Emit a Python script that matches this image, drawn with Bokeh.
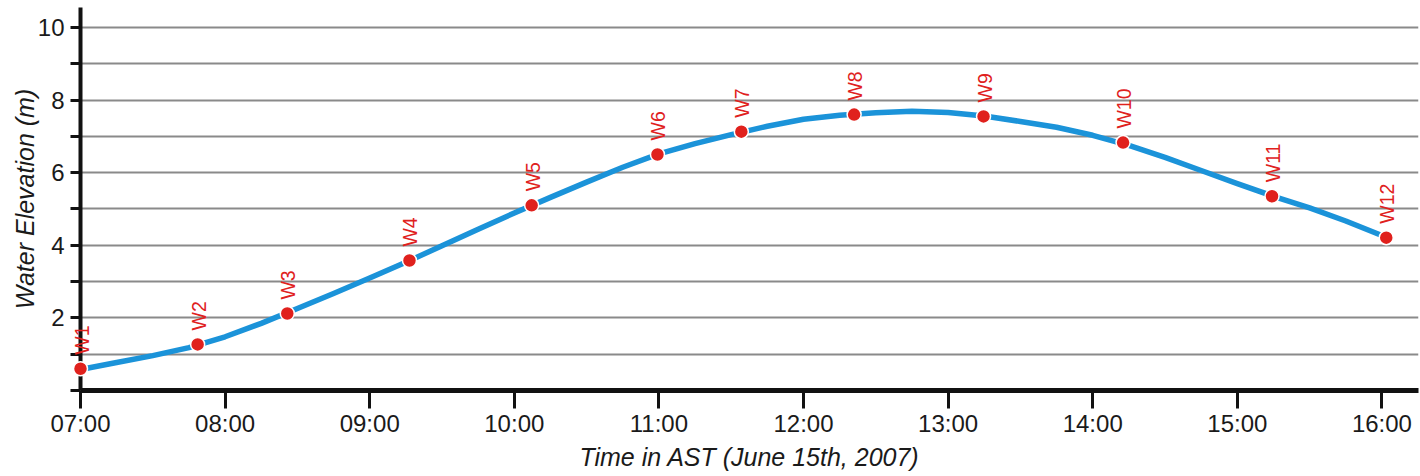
import math
from bokeh.plotting import figure
from bokeh.models import FixedTicker, ColumnDataSource, Range1d
from bokeh.core.properties import value
from bokeh.embed import file_html
from bokeh.resources import INLINE

# ---- data ----
station_names = ["W1", "W2", "W3", "W4", "W5", "W6", "W7", "W8", "W9", "W10", "W11", "W12"]
station_hours = [7.00, 7.81, 8.43, 9.275, 10.12, 10.99, 11.57, 12.35, 13.245, 14.21, 15.24, 16.03]
station_elev = [0.60, 1.27, 2.12, 3.58, 5.10, 6.50, 7.13, 7.60, 7.55, 6.83, 5.35, 4.21]

curve_hours = [7.0, 7.25, 7.5, 7.75, 8.0, 8.25, 8.5, 8.75, 9.0, 9.25, 9.5, 9.75,
               10.0, 10.25, 10.5, 10.75, 11.0, 11.25, 11.5, 11.75, 12.0, 12.25, 12.5, 12.75,
               13.0, 13.25, 13.5, 13.75, 14.0, 14.25, 14.5, 14.75, 15.0, 15.25, 15.5, 15.75,
               16.0, 16.03]
curve_elev = [0.58, 0.77, 0.96, 1.18, 1.48, 1.85, 2.26, 2.67, 3.10, 3.53, 3.99, 4.44,
              4.89, 5.32, 5.74, 6.15, 6.52, 6.80, 7.05, 7.28, 7.47, 7.58, 7.65, 7.69,
              7.66, 7.56, 7.41, 7.25, 7.03, 6.75, 6.42, 6.06, 5.70, 5.35, 5.03, 4.67,
              4.27, 4.21]

x_ticks = [7, 8, 9, 10, 11, 12, 13, 14, 15, 16]
x_tick_labels = ["07:00", "08:00", "09:00", "10:00", "11:00", "12:00", "13:00", "14:00", "15:00", "16:00"]
y_ticks = [0, 1, 2, 3, 4, 5, 6, 7, 8, 9, 10]
y_tick_labels = ["", "", "2", "", "4", "", "6", "", "8", "", "10"]

FONT = "Liberation Sans"
INK = "#1a1a1a"

p = figure(width=1420, height=474, output_backend="svg", toolbar_location=None,
           x_range=Range1d(7.0, 16.253), y_range=Range1d(0, 10.55),
           min_border_left=80, min_border_right=2, min_border_top=7, min_border_bottom=84)
p.outline_line_color = None
p.background_fill_color = "white"

# grid
p.xgrid.grid_line_color = None
p.ygrid.ticker = FixedTicker(ticks=[1, 2, 3, 4, 5, 6, 7, 8, 9, 10])
p.ygrid.grid_line_color = "#8a8a8a"
p.ygrid.grid_line_width = 2

# x axis
xa = p.xaxis[0]
xa.ticker = FixedTicker(ticks=x_ticks)
xa.major_label_overrides = {t: l for t, l in zip(x_ticks, x_tick_labels)}
xa.axis_line_width = 5
xa.axis_line_color = "#111111"
xa.major_tick_line_width = 3
xa.major_tick_line_color = "#111111"
xa.major_tick_out = 18
xa.major_tick_in = 0
xa.minor_tick_line_color = None
xa.major_label_text_font = FONT
xa.major_label_text_font_size = "24px"
xa.major_label_text_color = INK
xa.major_label_standoff = 1
xa.axis_label = "Time in AST (June 15th, 2007)"
xa.axis_label_text_font = FONT
xa.axis_label_text_font_size = "25px"
xa.axis_label_text_font_style = "italic"
xa.axis_label_text_color = INK
xa.axis_label_standoff = 3

# y axis
ya = p.yaxis[0]
ya.ticker = FixedTicker(ticks=y_ticks)
ya.major_label_overrides = {t: l for t, l in zip(y_ticks, y_tick_labels)}
ya.axis_line_width = 4
ya.axis_line_color = "#111111"
ya.major_tick_line_width = 3
ya.major_tick_line_color = "#111111"
ya.major_tick_out = 10
ya.major_tick_in = 0
ya.minor_tick_line_color = None
ya.major_label_text_font = FONT
ya.major_label_text_font_size = "24px"
ya.major_label_text_color = INK
ya.major_label_standoff = 6
ya.axis_label = "Water Elevation (m)"
ya.axis_label_text_font = FONT
ya.axis_label_text_font_size = "25px"
ya.axis_label_text_font_style = "italic"
ya.axis_label_text_color = INK
ya.axis_label_standoff = -4

# curve
p.line(curve_hours, curve_elev, line_color="#1b93d9", line_width=5.5, line_join="round",
       line_cap="round", level="overlay")

# stations
src = ColumnDataSource(dict(x=station_hours, y=station_elev, name=station_names))
p.scatter("x", "y", source=src, size=14, fill_color="#e0211d", line_color="white",
          line_width=1.5, level="overlay")
p.text("x", "y", text="name", source=src, angle=math.pi / 2, text_align="left",
       text_baseline="middle", y_offset=-14, x_offset=1, text_color="#e0211d",
       text_font=value(FONT), text_font_size="19.5px", level="overlay")

open("out.html", "w").write(file_html(p, INLINE))
